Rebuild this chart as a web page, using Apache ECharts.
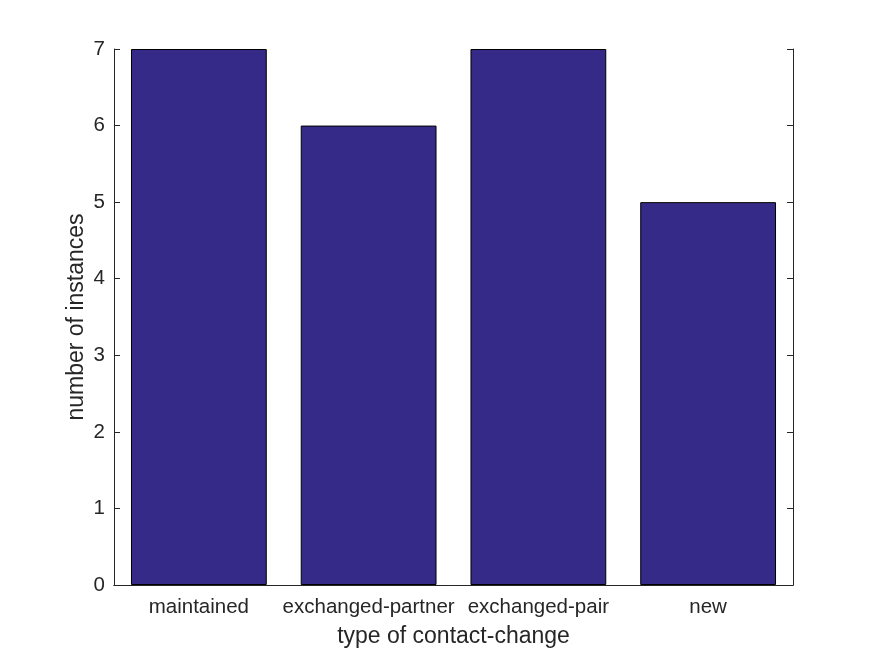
<!DOCTYPE html>
<html><head><meta charset="utf-8">
<script src="https://cdn.jsdelivr.net/npm/echarts@6/dist/echarts.min.js"></script>
<style>html,body{margin:0;padding:0;background:#fff}#c{width:875px;height:656px}</style>
</head><body><div id="c"></div>
<script>
const categories = ["maintained", "exchanged-partner", "exchanged-pair", "new"];
const values = [7, 6, 7, 5];
const yTicks = [0, 1, 2, 3, 4, 5, 6, 7];

const txt = '#262626';
const font = 'Liberation Sans';
const chart = echarts.init(document.getElementById('c'));
const lineStyle = {color: txt, width: 1};
chart.setOption({
  animation: false,
  grid: {left: 114, right: 82, top: 49, bottom: 71},
  xAxis: [{
    type: 'category', data: categories, position: 'bottom', z: 5,
    name: 'type of contact-change', nameLocation: 'middle', nameGap: 40, nameMoveOverlap: false,
    nameTextStyle: {color: txt, fontSize: 23, fontFamily: font},
    axisLine: {lineStyle}, axisTick: {inside: true, alignWithLabel: true, length: 6, lineStyle},
    axisLabel: {color: txt, fontSize: 20.5, fontFamily: font, margin: 12, interval: 0},
    splitLine: {show: false}
  }, {
    type: 'category', data: categories, position: 'top', z: 5,
    axisLine: {lineStyle}, axisTick: {inside: true, alignWithLabel: true, length: 6, lineStyle},
    axisLabel: {show: false}, splitLine: {show: false}
  }],
  yAxis: [{
    type: 'value', min: yTicks[0], max: yTicks[yTicks.length-1], interval: 1, position: 'left', z: 5,
    name: 'number of instances', nameLocation: 'middle', nameGap: 26, nameMoveOverlap: false,
    nameTextStyle: {color: txt, fontSize: 23, fontFamily: font},
    axisLine: {show: true, lineStyle}, axisTick: {show: true, inside: true, length: 6, lineStyle},
    axisLabel: {color: txt, fontSize: 20.5, fontFamily: font, margin: 9},
    splitLine: {show: false}
  }, {
    type: 'value', min: yTicks[0], max: yTicks[yTicks.length-1], interval: 1, position: 'right', z: 5,
    axisLine: {show: true, lineStyle}, axisTick: {show: true, inside: true, length: 6, lineStyle},
    axisLabel: {show: false}, splitLine: {show: false}
  }],
  series: [{
    type: 'bar', data: values, barWidth: '80%',
    itemStyle: {color: '#352A87', borderColor: '#000', borderWidth: 1}
  }]
});
</script></body></html>
